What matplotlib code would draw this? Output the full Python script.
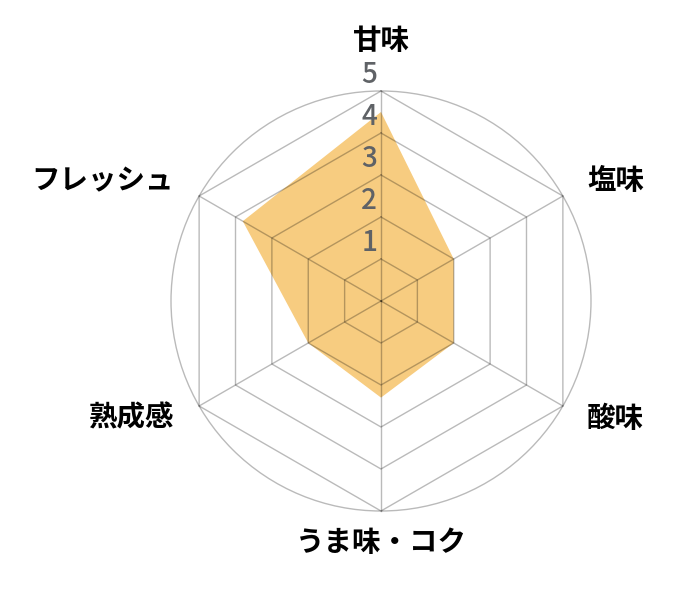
import numpy as np
import matplotlib.pyplot as plt
from matplotlib.patches import Circle

plt.rcParams['font.family'] = ['Noto Sans CJK JP', 'DejaVu Sans']

labels = ['甘味', '塩味', '酸味', 'うま味・コク', '熟成感', 'フレッシュ']
values = [4.5, 2.0, 2.0, 2.3, 2.0, 3.8]
ticks = [1, 2, 3, 4, 5]
vmax = 5

# 42 px per unit, centre of the web at pixel (381, 301)
px = 42.0
fig = plt.figure(figsize=(7, 6), dpi=100)
ax = fig.add_axes([0, 0, 1, 1])
ax.set_xlim(-381 / px, (700 - 381) / px)
ax.set_ylim(-(600 - 301) / px, 301 / px)
ax.set_aspect('equal')
ax.axis('off')

n = len(labels)
ang = np.pi / 2 - np.arange(n) * 2 * np.pi / n
cx, cy = np.cos(ang), np.sin(ang)

grid_kw = dict(color='black', alpha=0.27, lw=1.0, zorder=3)

# outer circle
ax.add_patch(Circle((0, 0), vmax, fill=False, ec='black', alpha=0.27,
                    lw=1.0, zorder=3))

# hexagon rings
for r in ticks:
    ax.plot(np.append(cx, cx[0]) * r, np.append(cy, cy[0]) * r, **grid_kw)

# spokes
for i in range(n):
    ax.plot([0, cx[i] * vmax], [0, cy[i] * vmax], **grid_kw)

# data polygon
v = np.array(values)
ax.fill(cx * v, cy * v, color='#F7CC80', lw=0, zorder=2)

# tick labels
for r in ticks:
    ax.text(-4 / px, r + 2 / px, str(r), ha='right', va='bottom',
            fontsize=20, fontweight='medium', color='#5f6266', zorder=4)

# axis labels
lab_pos = [(381, 41.5, 'center'), (587, 181.5, 'left'), (587, 418.5, 'left'),
           (381, 543.5, 'center'), (174, 418.5, 'right'), (174, 181.5, 'right')]
for lab, (x, y, ha) in zip(labels, lab_pos):
    ax.text((x - 381) / px, (301 - y) / px, lab, ha=ha, va='center',
            fontsize=20.5, fontweight='bold', color='black')

fig.savefig('out.png', dpi=100)
